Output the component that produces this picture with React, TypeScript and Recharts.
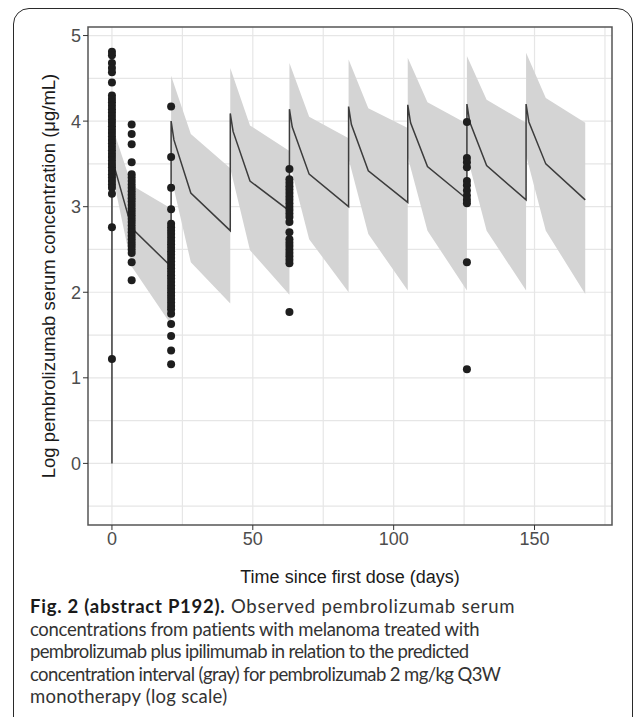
import {
  ComposedChart,
  Area,
  Line,
  Scatter,
  XAxis,
  YAxis,
  CartesianGrid,
  ReferenceArea,
} from "recharts";

// predicted 90% interval (gray band), log scale
const bandDays = [0, 7, 21, 21, 28, 42, 42, 49, 63, 63, 70, 84, 84, 91, 105, 105, 112, 126, 126, 133, 147, 147, 154, 168];
const bandLow = [3.4, 2.3, 1.62, 3.35, 2.35, 1.87, 3.45, 2.49, 1.97, 3.52, 2.62, 2.0, 3.56, 2.68, 2.02, 3.58, 2.72, 2.02, 3.6, 2.72, 2.02, 3.6, 2.72, 1.98];
const bandHigh = [3.95, 3.25, 2.98, 4.53, 3.85, 3.45, 4.62, 3.95, 3.65, 4.68, 4.05, 3.8, 4.72, 4.15, 3.92, 4.74, 4.22, 3.97, 4.76, 4.25, 3.98, 4.8, 4.27, 3.98];

// predicted median
const predDays = [0, 0, 1, 7, 21, 21, 22, 28, 42, 42, 43, 49, 63, 63, 64, 70, 84, 84, 85, 91, 105, 105, 106, 112, 126, 126, 127, 133, 147, 147, 148, 154, 168];
const predValues = [0, 3.95, 3.45, 2.75, 2.3, 4.0, 3.78, 3.16, 2.72, 4.09, 3.88, 3.3, 2.95, 4.14, 3.93, 3.38, 3.0, 4.17, 3.96, 3.42, 3.05, 4.19, 3.98, 3.47, 3.09, 4.2, 3.99, 3.48, 3.08, 4.2, 3.99, 3.5, 3.08];

// observed concentrations
const obsDays = [0, 7, 21, 63, 126];
const obsDay0 = [4.81, 4.77, 4.68, 4.62, 4.57, 4.45, 4.3, 4.26, 4.22, 4.18, 4.14, 4.1, 4.06, 4.02, 3.98, 3.94, 3.9, 3.86, 3.82, 3.78, 3.74, 3.7, 3.66, 3.62, 3.58, 3.54, 3.5, 3.46, 3.42, 3.38, 3.34, 3.3, 3.26, 3.22, 3.15, 2.76, 1.22];
const obsDay7 = [3.96, 3.85, 3.73, 3.52, 3.38, 3.34, 3.3, 3.26, 3.22, 3.18, 3.14, 3.1, 3.06, 3.02, 2.98, 2.94, 2.9, 2.86, 2.82, 2.78, 2.74, 2.7, 2.66, 2.62, 2.58, 2.54, 2.5, 2.46, 2.35, 2.14];
const obsDay21 = [4.17, 3.58, 3.22, 2.97, 2.8, 2.76, 2.72, 2.68, 2.64, 2.6, 2.56, 2.52, 2.48, 2.44, 2.4, 2.36, 2.32, 2.28, 2.24, 2.2, 2.16, 2.12, 2.08, 2.04, 2.0, 1.96, 1.92, 1.88, 1.84, 1.8, 1.75, 1.63, 1.49, 1.32, 1.16];
const obsDay63 = [3.44, 3.32, 3.28, 3.24, 3.2, 3.16, 3.12, 3.08, 3.04, 3.0, 2.96, 2.92, 2.88, 2.82, 2.7, 2.62, 2.58, 2.54, 2.5, 2.46, 2.42, 2.38, 2.34, 1.77];
const obsDay126 = [3.99, 3.57, 3.52, 3.46, 3.3, 3.25, 3.19, 3.13, 3.08, 3.04, 2.35, 1.1];
const obsValues = [obsDay0, obsDay7, obsDay21, obsDay63, obsDay126];

const xTicks = [0, 50, 100, 150];
const yTicks = [0, 1, 2, 3, 4, 5];
const xGrid = [0, 25, 50, 75, 100, 125, 150, 175];
const yGrid = [-0.5, 0, 0.5, 1, 1.5, 2, 2.5, 3, 3.5, 4, 4.5, 5];

const X_DOMAIN = [-8.5, 177.5];
const Y_DOMAIN = [-0.72, 5.1];

const bandData = bandDays.map((d, i) => ({ day: d, band: [bandLow[i], bandHigh[i]] }));
const predData = predDays.map((d, i) => ({ day: d, pred: predValues[i] }));
const obsData = obsDays.flatMap((d, i) => obsValues[i].map((v) => ({ day: d, value: v })));

const AXIS_FONT = "'Liberation Sans', Arial, sans-serif";

// caption lines after the bold lead, with per-line tracking to match the original wrap
const captionLines = [
  { text: "concentrations from patients with melanoma treated with", ls: -0.3 },
  { text: "pembrolizumab plus ipilimumab in relation to the predicted", ls: -0.65 },
  { text: "concentration interval (gray) for pembrolizumab 2 mg/kg Q3W", ls: -0.6 },
  { text: "monotherapy (log scale)", ls: 0.25 },
];

function Dot(props: any) {
  const { cx, cy } = props;
  return <circle cx={cx} cy={cy} r={4} fill="#1e1e1e" />;
}

function YTitle(props: any) {
  const { viewBox } = props;
  const x = viewBox.x + 20;
  const y = viewBox.y + viewBox.height / 2;
  return (
    <text
      x={x}
      y={y}
      transform={`rotate(-90, ${x}, ${y})`}
      textAnchor="middle"
      dominantBaseline="central"
      fontSize={18.5}
      fontFamily={AXIS_FONT}
      fill="#1a1a1a"
    >
      Log pembrolizumab serum concentration (μg/mL)
    </text>
  );
}

function XTitle(props: any) {
  const { viewBox } = props;
  return (
    <text
      x={viewBox.x + viewBox.width / 2}
      y={viewBox.y + 52}
      textAnchor="middle"
      dominantBaseline="central"
      fontSize={18}
      fontFamily={AXIS_FONT}
      fill="#1a1a1a"
    >
      Time since first dose (days)
    </text>
  );
}

export default function App() {
  return (
    <div
      style={{
        position: "absolute",
        left: 0,
        top: 0,
        width: 635,
        height: 717,
        overflow: "hidden",
        background: "white",
      }}
    >
      <div
        style={{
          position: "absolute",
          left: 13,
          top: 8,
          width: 620,
          height: 760,
          border: "1.5px solid #2a2a2a",
          borderRadius: 16,
          boxSizing: "border-box",
        }}
      />
      <div style={{ position: "absolute", left: 0, top: 0 }}>
        <ComposedChart
          width={635}
          height={600}
          data={bandData}
          margin={{ top: 27, right: 23, bottom: 15, left: 28 }}
        >
          <CartesianGrid
            stroke="#e6e6e6"
            strokeWidth={1.2}
            horizontalValues={yGrid}
            verticalValues={xGrid}
          />
          <XAxis
            dataKey="day"
            type="number"
            domain={X_DOMAIN}
            ticks={xTicks}
            allowDataOverflow
            axisLine={false}
            tickLine={{ stroke: "#333" }}
            tickSize={5}
            height={60}
            tick={{ fontSize: 18, fill: "#4d4d4d", fontFamily: AXIS_FONT }}
            label={<XTitle />}
          />
          <YAxis
            type="number"
            domain={Y_DOMAIN}
            ticks={yTicks}
            allowDataOverflow
            axisLine={false}
            tickLine={{ stroke: "#333" }}
            tickSize={5}
            width={60}
            tick={{ fontSize: 18, fill: "#4d4d4d", fontFamily: AXIS_FONT }}
            label={<YTitle />}
          />
          <Area
            type="linear"
            dataKey="band"
            stroke="none"
            fill="#d4d4d4"
            fillOpacity={1}
            isAnimationActive={false}
          />
          <Line
            data={predData}
            type="linear"
            dataKey="pred"
            stroke="#3c3c3c"
            strokeWidth={1.5}
            dot={false}
            isAnimationActive={false}
          />
          <Scatter
            data={obsData}
            dataKey="value"
            shape={<Dot />}
            isAnimationActive={false}
          />
          <ReferenceArea
            x1={X_DOMAIN[0]}
            x2={X_DOMAIN[1]}
            y1={Y_DOMAIN[0]}
            y2={Y_DOMAIN[1]}
            fill="none"
            stroke="#555"
            strokeWidth={1.5}
            ifOverflow="visible"
          />
        </ComposedChart>
      </div>
      <div
        style={{
          position: "absolute",
          left: 30,
          top: 595,
          fontFamily: "Lato, sans-serif",
          fontSize: 18.5,
          lineHeight: "22.5px",
          color: "#333",
          whiteSpace: "nowrap",
        }}
      >
        <div style={{ letterSpacing: 0.75 }}>
          <b style={{ color: "#1a1a1a" }}>Fig. 2 (abstract P192).</b> Observed pembrolizumab serum
        </div>
        {captionLines.map((l) => (
          <div key={l.text} style={{ letterSpacing: l.ls }}>
            {l.text}
          </div>
        ))}
      </div>
    </div>
  );
}
